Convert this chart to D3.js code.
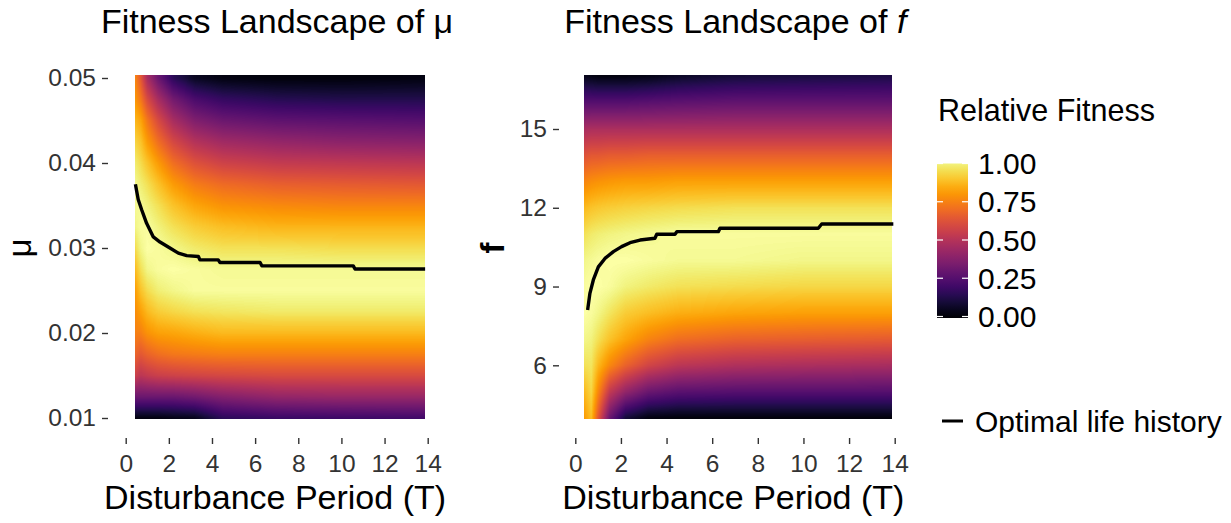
<!DOCTYPE html>
<html>
<head>
<meta charset="utf-8">
<script src="https://cdn.jsdelivr.net/npm/d3@7"></script>
<style>
  body { margin: 0; background: #fff; }
  svg { display: block; font-family: "Liberation Sans", Arial, sans-serif; }
</style>
</head>
<body>
<div class="box"></div>
<script>
// columns of the fitness grids (disturbance period T)
const periods = [0.4, 0.7, 1.0, 1.5, 2.2, 3.2, 4.5, 7, 10, 13.9];

// landscape of mu : one row per mu value (top to bottom)
const muRows = [0.05, 0.0475, 0.045, 0.0425, 0.04, 0.0375, 0.035, 0.0325, 0.03,
                0.0275, 0.025, 0.0225, 0.02, 0.0175, 0.015, 0.0125, 0.01];
const muFitness = [
  [0.75, 0.62, 0.45, 0.30, 0.15, 0.06, 0.03, 0.02, 0.02, 0.03],
  [0.78, 0.70, 0.58, 0.45, 0.32, 0.22, 0.17, 0.14, 0.13, 0.13],
  [0.84, 0.80, 0.70, 0.58, 0.45, 0.35, 0.30, 0.27, 0.26, 0.25],
  [0.90, 0.86, 0.78, 0.68, 0.57, 0.48, 0.43, 0.40, 0.38, 0.37],
  [0.95, 0.91, 0.86, 0.78, 0.68, 0.60, 0.55, 0.52, 0.51, 0.50],
  [0.98, 0.95, 0.92, 0.86, 0.78, 0.71, 0.67, 0.64, 0.63, 0.62],
  [0.98, 0.98, 0.96, 0.92, 0.86, 0.80, 0.76, 0.74, 0.73, 0.73],
  [0.96, 0.99, 0.99, 0.96, 0.92, 0.88, 0.85, 0.83, 0.83, 0.83],
  [0.90, 0.97, 1.00, 0.99, 0.97, 0.94, 0.92, 0.92, 0.91, 0.91],
  [0.83, 0.92, 0.97, 0.99, 1.00, 0.99, 0.98, 0.98, 0.98, 0.98],
  [0.77, 0.86, 0.91, 0.95, 0.97, 0.99, 0.99, 0.99, 0.99, 0.99],
  [0.74, 0.79, 0.84, 0.88, 0.90, 0.92, 0.93, 0.94, 0.94, 0.94],
  [0.72, 0.72, 0.76, 0.79, 0.80, 0.82, 0.84, 0.84, 0.84, 0.84],
  [0.66, 0.62, 0.65, 0.68, 0.70, 0.71, 0.72, 0.72, 0.72, 0.72],
  [0.55, 0.50, 0.52, 0.54, 0.55, 0.56, 0.57, 0.58, 0.58, 0.58],
  [0.30, 0.30, 0.30, 0.30, 0.30, 0.32, 0.36, 0.40, 0.41, 0.41],
  [0.03, 0.03, 0.03, 0.03, 0.04, 0.05, 0.15, 0.18, 0.19, 0.20]
];

// landscape of f
const fRows = [17, 16, 15, 14, 13, 12, 11, 10, 9, 8, 7, 6, 5, 4];
const fFitness = [
  [0.05, 0.04, 0.03, 0.03, 0.03, 0.04, 0.07, 0.10, 0.11, 0.12],
  [0.25, 0.25, 0.25, 0.25, 0.25, 0.26, 0.27, 0.28, 0.28, 0.28],
  [0.45, 0.46, 0.46, 0.46, 0.46, 0.46, 0.46, 0.46, 0.46, 0.46],
  [0.60, 0.62, 0.62, 0.63, 0.63, 0.64, 0.64, 0.64, 0.64, 0.64],
  [0.73, 0.75, 0.76, 0.77, 0.78, 0.78, 0.79, 0.79, 0.79, 0.79],
  [0.84, 0.86, 0.87, 0.88, 0.89, 0.90, 0.91, 0.92, 0.92, 0.92],
  [0.92, 0.94, 0.95, 0.96, 0.97, 0.98, 0.99, 0.99, 0.99, 0.99],
  [0.97, 0.98, 0.99, 1.00, 1.00, 0.99, 0.98, 0.98, 0.97, 0.97],
  [0.99, 1.00, 1.00, 0.99, 0.96, 0.94, 0.92, 0.91, 0.90, 0.90],
  [1.00, 0.99, 0.97, 0.93, 0.88, 0.85, 0.82, 0.80, 0.79, 0.79],
  [0.97, 0.96, 0.92, 0.86, 0.80, 0.73, 0.68, 0.65, 0.64, 0.63],
  [0.92, 0.93, 0.84, 0.74, 0.65, 0.56, 0.50, 0.47, 0.46, 0.45],
  [0.84, 0.90, 0.74, 0.52, 0.40, 0.30, 0.26, 0.25, 0.25, 0.25],
  [0.78, 0.85, 0.62, 0.30, 0.10, 0.03, 0.02, 0.02, 0.02, 0.02]
];

// optimal life history lines
const muOptT = [0.45, 0.58, 0.74, 0.97, 1.28, 1.59, 2.05, 2.44, 2.83, 3.37, 3.44, 4.29, 4.37,
                6.23, 6.31, 10.55, 10.63, 13.88];
const muOpt = [0.0375, 0.0357, 0.0345, 0.0329, 0.0313, 0.0307, 0.0300, 0.0294, 0.0291, 0.0290,
               0.0286, 0.0286, 0.0283, 0.0283, 0.0279, 0.0279, 0.02753, 0.02753];
const fOptT = [0.54, 0.64, 0.79, 1.01, 1.30, 1.67, 2.03, 2.40, 2.84, 3.49, 3.57, 4.37, 4.45,
               6.27, 6.34, 10.65, 10.80, 13.94];
const fOpt = [8.11, 8.74, 9.25, 9.75, 10.07, 10.33, 10.52, 10.67, 10.77, 10.84, 10.99, 10.99,
              11.09, 11.09, 11.22, 11.22, 11.38, 11.38];

const tTicks = [0, 2, 4, 6, 8, 10, 12, 14];
const muTicks = [0.01, 0.02, 0.03, 0.04, 0.05];
const fTicks = [6, 9, 12, 15];
const legendTicks = [0, 0.25, 0.5, 0.75, 1];

const W = 1231, H = 523;
const svg = d3.select('.box').append('svg').attr('width', W).attr('height', H);

const panels = [
  {
    x: d3.scaleLinear().domain([0, 14]).range([125.7, 427.7]),
    y: d3.scaleLinear().domain([0.01, 0.05]).range([418, 78]),
    rows: muRows, grid: muFitness, tExt: [0.43, 13.88], vExt: [0.0099, 0.0504],
    optT: muOptT, opt: muOpt, yTicks: muTicks, yFmt: d3.format('.2f'),
    left: 108, title: 'μ', italic: false, ylab: 'μ', ylabX: 31, ylabBold: false
  },
  {
    x: d3.scaleLinear().domain([0, 14]).range([575.3, 894.7]),
    y: d3.scaleLinear().domain([6, 15]).range([365.3, 129]),
    rows: fRows, grid: fFitness, tExt: [0.39, 13.9], vExt: [3.95, 17.05],
    optT: fOptT, opt: fOpt, yTicks: fTicks, yFmt: d3.format('d'),
    left: 559, title: 'f', italic: true, ylab: 'f', ylabX: 504, ylabBold: true
  }
];

const bottom = 438;

const drawRaster = (p) => {
  const rowFns = p.grid.map(r => d3.scaleLinear().domain(periods).range(r).clamp(true));
  const x0 = Math.round(p.x(p.tExt[0])), x1 = Math.round(p.x(p.tExt[1]));
  const y0 = Math.round(p.y(p.vExt[1])), y1 = Math.round(p.y(p.vExt[0]));
  const w = x1 - x0, h = y1 - y0;
  const canvas = document.createElement('canvas');
  canvas.width = w; canvas.height = h;
  const ctx = canvas.getContext('2d');
  const img = ctx.createImageData(w, h);
  for (let i = 0; i < w; i++) {
    const t = p.x.invert(x0 + i + 0.5);
    const col = rowFns.map(f => f(t));
    const colFn = d3.scaleLinear().domain(p.rows).range(col).clamp(true);
    for (let j = 0; j < h; j++) {
      const v = colFn(p.y.invert(y0 + j + 0.5));
      const c = d3.rgb(d3.interpolateInferno(v));
      const k = (j * w + i) * 4;
      img.data[k] = c.r; img.data[k + 1] = c.g; img.data[k + 2] = c.b; img.data[k + 3] = 255;
    }
  }
  ctx.putImageData(img, 0, 0);
  svg.append('image')
     .attr('x', x0).attr('y', y0)
     .attr('width', w).attr('height', h)
     .attr('preserveAspectRatio', 'none')
     .attr('href', canvas.toDataURL());
};

panels.forEach(p => {
  drawRaster(p);

  // optimal life history
  const line = d3.line().x(d => p.x(d[0])).y(d => p.y(d[1]));
  svg.append('path')
     .attr('d', line(p.optT.map((t, i) => [t, p.opt[i]])))
     .attr('fill', 'none')
     .attr('stroke', '#000')
     .attr('stroke-width', 3.4)
     .attr('stroke-linejoin', 'round');

  // axes
  const xAxis = svg.append('g')
     .attr('transform', `translate(0, ${bottom})`)
     .call(d3.axisBottom(p.x).tickValues(tTicks).tickSize(6).tickPadding(11));
  const yAxis = svg.append('g')
     .attr('transform', `translate(${p.left}, 0)`)
     .call(d3.axisLeft(p.y).tickValues(p.yTicks).tickFormat(p.yFmt).tickSize(6).tickPadding(6));
  [xAxis, yAxis].forEach(a => {
    a.select('.domain').remove();
    a.selectAll('.tick line').attr('stroke', '#333').attr('stroke-width', 1.4);
    a.selectAll('.tick text')
     .attr('fill', '#333')
     .style('font-size', '24.5px')
     .style('font-family', '"Liberation Sans", Arial, sans-serif');
  });

  const cx = (p.x(p.tExt[0]) + p.x(p.tExt[1])) / 2;

  // title
  const title = svg.append('text')
     .attr('x', cx - 3).attr('y', 33)
     .attr('text-anchor', 'middle')
     .style('font-size', '34px')
     .text('Fitness Landscape of ');
  title.append('tspan')
     .style('font-style', p.italic ? 'italic' : 'normal')
     .text(p.title);

  // axis titles
  svg.append('text')
     .attr('x', cx - 5).attr('y', 509)
     .attr('text-anchor', 'middle')
     .style('font-size', '34px')
     .text('Disturbance Period (T)');
  svg.append('text')
     .attr('transform', `translate(${p.ylabX}, 248) rotate(-90)`)
     .attr('text-anchor', 'middle')
     .style('font-size', '33px')
     .style('font-weight', p.ylabBold ? 'bold' : 'normal')
     .text(p.ylab);
});

// legend : colour bar
const legY = d3.scaleLinear().domain([0, 1]).range([316.5, 163.5]);
const defs = svg.append('defs');
const grad = defs.append('linearGradient')
   .attr('id', 'fitGrad')
   .attr('x1', 0).attr('y1', 1).attr('x2', 0).attr('y2', 0);
d3.range(0, 1.0001, 0.05).forEach(t => {
  grad.append('stop').attr('offset', t).attr('stop-color', d3.interpolateInferno(t * 0.96));
});
const barX = 937, barW = 31;
svg.append('text')
   .attr('x', 938).attr('y', 121)
   .style('font-size', '30.5px')
   .text('Relative Fitness');
svg.append('rect')
   .attr('x', barX).attr('y', legY(1))
   .attr('width', barW).attr('height', legY(0) - legY(1) + 1.5)
   .attr('fill', 'url(#fitGrad)');
legendTicks.forEach(v => {
  [[barX, barX + 6], [barX + barW - 6, barX + barW]].forEach(s => {
    svg.append('line')
       .attr('x1', s[0]).attr('x2', s[1])
       .attr('y1', legY(v)).attr('y2', legY(v))
       .attr('stroke', '#fff').attr('stroke-width', 1.2);
  });
  svg.append('text')
     .attr('x', 978).attr('y', legY(v))
     .attr('dy', '0.35em')
     .style('font-size', '30px')
     .text(d3.format('.2f')(v));
});

// legend : line key
svg.append('line')
   .attr('x1', 942).attr('x2', 963)
   .attr('y1', 421).attr('y2', 421)
   .attr('stroke', '#000').attr('stroke-width', 3);
svg.append('text')
   .attr('x', 975).attr('y', 432)
   .style('font-size', '30px')
   .text('Optimal life history');
</script>
</body>
</html>
